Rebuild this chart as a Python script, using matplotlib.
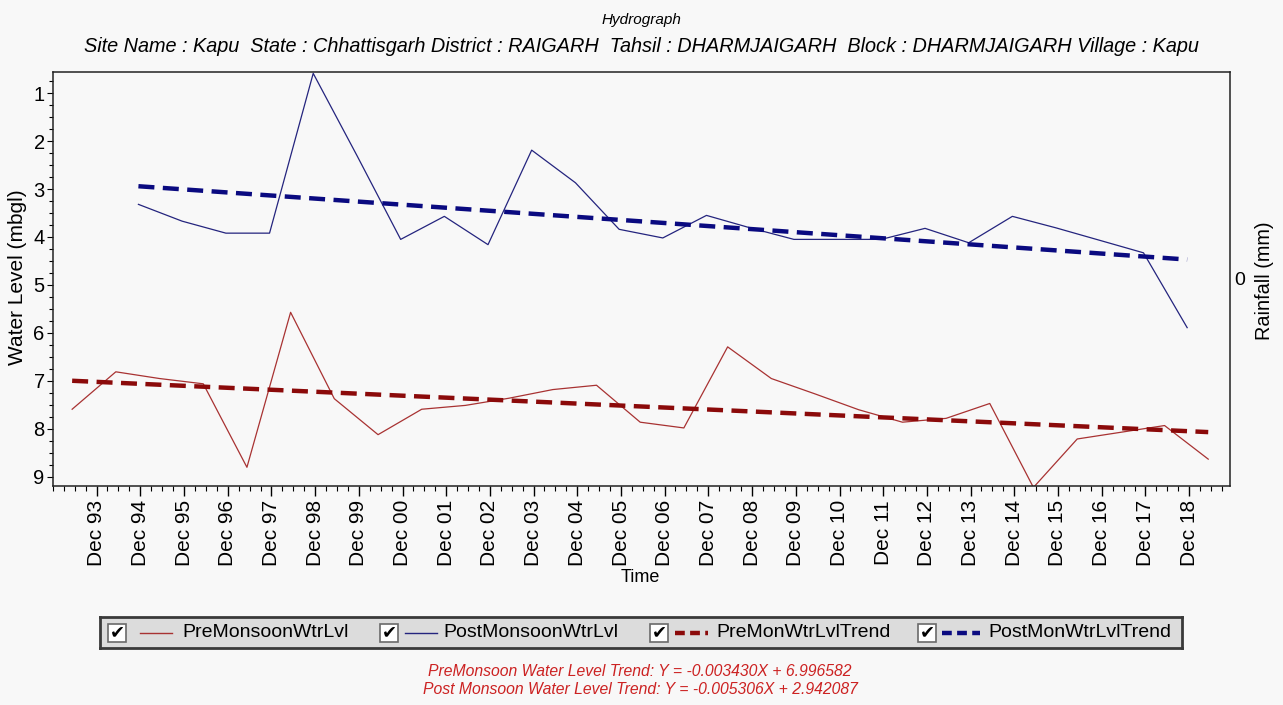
import matplotlib
matplotlib.use('Agg')
import matplotlib.pyplot as plt
import matplotlib.dates as mdates
from matplotlib.ticker import MultipleLocator, FixedLocator
from matplotlib.patches import Rectangle
from matplotlib.lines import Line2D
import datetime as dt

plt.rcParams['font.family'] = ['Liberation Sans', 'DejaVu Sans']

# ---------------- data ----------------
pre_years = list(range(1993, 2020))
pre_values = [7.59, 6.81, 6.95, 7.06, 8.80, 5.57, 7.37, 8.12, 7.59, 7.51,
              7.36, 7.18, 7.09, 7.86, 7.98, 6.29, 6.95, 7.27, 7.60, 7.86,
              7.78, 7.47, 9.22, 8.21, 8.07, 7.93, 8.63]
post_years = list(range(1994, 2019))
post_values = [3.32, 3.67, 3.92, 3.92, 0.59, 2.30, 4.05, 3.57, 4.16, 2.19,
               2.87, 3.84, 4.02, 3.55, 3.81, 4.05, 4.05, 4.05, 3.82, 4.12,
               3.57, 3.81, 4.07, 4.33, 5.89]
pre_slope, pre_intercept = -0.003430, 6.996582
post_slope, post_intercept = -0.005306, 2.942087
tick_years = list(range(1993, 2019))

pre_dates = [dt.date(y, 5, 10) for y in pre_years]
post_dates = [dt.date(y, 11, 15) for y in post_years]


def trend(dates, slope, intercept):
    d0 = dates[0]
    months = [(d - d0).days / 30.4375 for d in dates]
    # depth below ground increases -> plotted value grows with time
    return [intercept - slope * m for m in months]


pre_trend = trend(pre_dates, pre_slope, pre_intercept)
post_trend = trend(post_dates, post_slope, post_intercept)

# ---------------- figure ----------------
BG = '#f8f8f8'
fig = plt.figure(figsize=(12.83, 7.05), dpi=100, facecolor=BG)
ax = fig.add_axes([53 / 1283, 1 - 486 / 705, (1230 - 53) / 1283, (486 - 71.7) / 705])
ax.set_facecolor(BG)

pre_col = '#a83232'
post_col = '#24247e'
pre_tr_col = '#8b0a0a'
post_tr_col = '#0a0a80'

ax.plot(pre_dates, pre_values, color=pre_col, lw=0.9)
ax.plot(post_dates, post_values, color=post_col, lw=0.9)
ax.plot(pre_dates, pre_trend, color=pre_tr_col, lw=3.2, dashes=(3.6, 1.9))
ax.plot(post_dates, post_trend, color=post_tr_col, lw=3.2, dashes=(3.6, 1.9))

ax.set_xlim(dt.date(1992, 12, 1), dt.date(2019, 11, 8))
ax.set_ylim(9.19, 0.555)

ax.xaxis.set_major_locator(FixedLocator([mdates.date2num(dt.date(y, 12, 1)) for y in tick_years]))
ax.xaxis.set_major_formatter(mdates.DateFormatter('%b %y'))
ax.xaxis.set_minor_locator(mdates.MonthLocator(bymonth=[3, 6, 9, 12]))
ax.yaxis.set_major_locator(MultipleLocator(1))
ax.yaxis.set_minor_locator(MultipleLocator(0.25))

ax.tick_params(axis='x', which='major', labelsize=15, rotation=90, length=7, width=1, pad=3)
ax.tick_params(axis='x', which='minor', length=3.5, width=0.8)
ax.tick_params(axis='y', which='major', labelsize=14.5, length=4, width=0.8, pad=2)
ax.tick_params(axis='y', which='minor', length=3, width=0.8)
for s in ax.spines.values():
    s.set_color('#222222')
    s.set_linewidth(1.1)

ax2 = ax.twinx()
ax2.set_ylim(-1, 1)
ax2.set_yticks([0])
ax2.tick_params(axis='y', length=0, labelsize=14, pad=3)
for s in ax2.spines.values():
    s.set_visible(False)

# titles and labels
fig.text(0.5, 1 - 20 / 705, 'Hydrograph', ha='center', va='center', fontsize=11, style='italic')
fig.text(0.5, 1 - 46 / 705,
         'Site Name : Kapu  State : Chhattisgarh District : RAIGARH  Tahsil : DHARMJAIGARH  Block : DHARMJAIGARH Village : Kapu',
         ha='center', va='center', fontsize=14.3, style='italic')
fig.text(18 / 1283, 1 - 277 / 705, 'Water Level (mbgl)', rotation=90, ha='center', va='center', fontsize=15)
fig.text(1265 / 1283, 1 - 281 / 705, 'Rainfall (mm)', rotation=90, ha='center', va='center', fontsize=14.3)
fig.text(640 / 1283, 1 - 578 / 705, 'Time', ha='center', va='center', fontsize=13)

# legend box
lax = fig.add_axes([100 / 1283, 1 - 648 / 705, 1082 / 1283, 31 / 705])
lax.set_xlim(0, 1082)
lax.set_ylim(0, 31)
lax.set_facecolor('#dcdcdc')
lax.set_xticks([])
lax.set_yticks([])
for s in lax.spines.values():
    s.set_color('#3a3a3a')
    s.set_linewidth(2)

legend_labels = ['PreMonsoonWtrLvl', 'PostMonsoonWtrLvl', 'PreMonWtrLvlTrend', 'PostMonWtrLvlTrend']
legend_items = [
    (8, 40, 72, 82, pre_col, 1.0, None),
    (280, 305, 337, 343, post_col, 1.0, None),
    (550, 575, 608, 616, pre_tr_col, 3.2, (2.2, 1.2)),
    (818, 842, 880, 888, post_tr_col, 3.2, (2.2, 1.2)),
]
for lab, (cbx, lx0, lx1, tx, col, lw, dash) in zip(legend_labels, legend_items):
    lax.add_patch(Rectangle((cbx, 6.5), 18, 18, facecolor='white', edgecolor='#6a6a6a', lw=1.2))
    lax.text(cbx + 9, 15.5, '\u2714', ha='center', va='center', fontsize=13,
             family='DejaVu Sans', color='black')
    ln = Line2D([lx0, lx1], [15.5, 15.5], color=col, lw=lw)
    if dash:
        ln.set_dashes(dash)
    lax.add_line(ln)
    lax.text(tx, 15.5, lab, ha='left', va='center', fontsize=14)

eq_col = '#cc2222'
fig.text(640 / 1283, 1 - 671 / 705,
         'PreMonsoon Water Level Trend: Y = %.6fX + %.6f' % (pre_slope, pre_intercept),
         ha='center', va='center', fontsize=11.3, style='italic', color=eq_col)
fig.text(640 / 1283, 1 - 690 / 705,
         'Post Monsoon Water Level Trend: Y = %.6fX + %.6f' % (post_slope, post_intercept),
         ha='center', va='center', fontsize=11.3, style='italic', color=eq_col)

fig.savefig('out.png', dpi=100, facecolor=BG)
